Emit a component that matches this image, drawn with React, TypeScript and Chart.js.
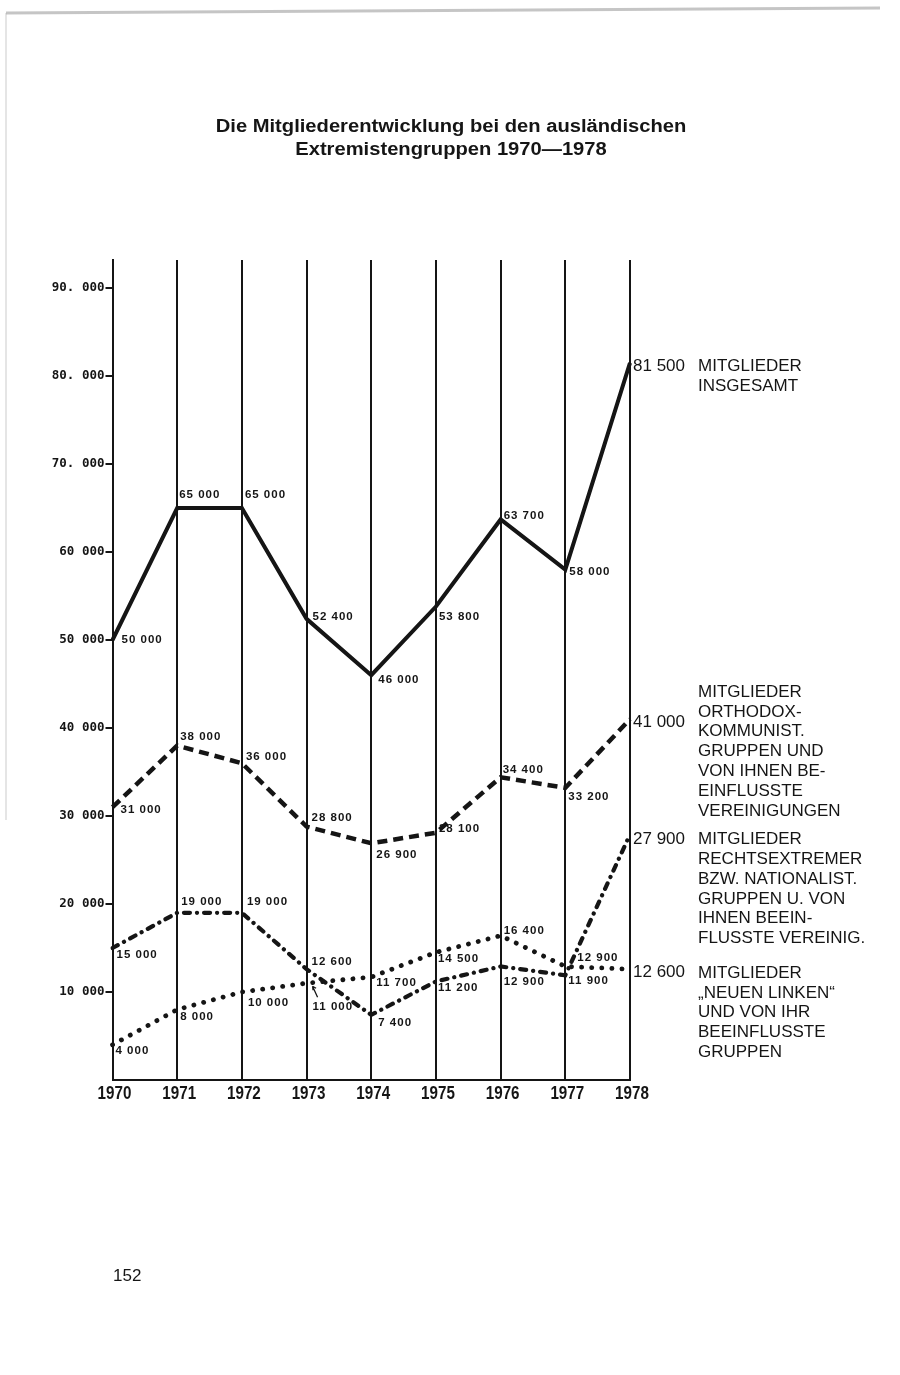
import React, { useEffect, useRef } from "react";
import { Chart, registerables } from "chart.js";

Chart.register(...registerables);

// ---------- data ----------
const years = ["1970", "1971", "1972", "1973", "1974", "1975", "1976", "1977", "1978"];
const totalMembers = [50000, 65000, 65000, 52400, 46000, 53800, 63700, 58000, 81500];
const orthodoxMembers = [31000, 38000, 36000, 28800, 26900, 28100, 34400, 33200, 41000];
const rightMembers = [15000, 19000, 19000, 12600, 7400, 11200, 12900, 11900, 27900];
const newLeftMembers = [4000, 8000, 10000, 11000, 11700, 14500, 16400, 12900, 12600];
const yTickValues = [0, 10000, 20000, 30000, 40000, 50000, 60000, 70000, 80000, 90000];
const yTickLabels = ["", "10 000", "20 000", "30 000", "40 000", "50 000", "60 000", "70. 000", "80. 000", "90. 000"];
const yAxisMax = 93182;

const titleLines = ["Die Mitgliederentwicklung bei den ausländischen", "Extremistengruppen 1970—1978"];
const totalCaption = ["MITGLIEDER", "INSGESAMT"];
const orthodoxCaption = ["MITGLIEDER", "ORTHODOX-", "KOMMUNIST.", "GRUPPEN UND", "VON IHNEN BE-", "EINFLUSSTE", "VEREINIGUNGEN"];
const rightCaption = ["MITGLIEDER", "RECHTSEXTREMER", "BZW. NATIONALIST.", "GRUPPEN U. VON", "IHNEN BEEIN-", "FLUSSTE VEREINIG."];
const newLeftCaption = ["MITGLIEDER", "„NEUEN LINKEN“", "UND VON IHR", "BEEINFLUSSTE", "GRUPPEN"];
const pageNumber = "152";

// ---------- label placement (offsets from each point, px) ----------
const totalLabelOffsets = [[9, 0], [2, -13], [3, -13], [6, -2], [7, 5], [3, 10], [3, -4], [4, 2]];
const orthodoxLabelOffsets = [[8, 3], [3, -9], [4, -6], [5, -9], [5, 12], [3, -4], [2, -7], [3, 9]];
const rightLabelOffsets = [[4, 7], [4, -11], [5, -11], [5, -7], [7, 8], [2, 6], [3, 15], [3, 6]];
const newLeftLabelOffsets = [[3, 6], [3, 7], [6, 11], [6, 24], [5, 6], [2, 6], [3, -5], [12, -9]];
// end value label dy, caption first-line dy
const endPlacement = [
  { dy: 4, capDy: 4 },
  { dy: 3, capDy: -27 },
  { dy: 5, capDy: 5 },
  { dy: 3, capDy: 4 },
];

const INK = "#151515";
const SANS = "'Liberation Sans', Arial, Helvetica, sans-serif";

const fmt = (v: number) => {
  const s = String(v);
  return s.length > 3 ? s.slice(0, s.length - 3) + " " + s.slice(s.length - 3) : s;
};

const annotationPlugin = {
  id: "annotations",
  afterDraw(chart: any) {
    const ctx = chart.ctx as CanvasRenderingContext2D;
    const offsets = [totalLabelOffsets, orthodoxLabelOffsets, rightLabelOffsets, newLeftLabelOffsets];
    const captions = [totalCaption, orthodoxCaption, rightCaption, newLeftCaption];
    ctx.save();
    ctx.fillStyle = INK;
    ctx.strokeStyle = INK;
    ctx.textBaseline = "middle";

    // title (heavy, slightly widened)
    ctx.textAlign = "center";
    ctx.font = `bold 18px ${SANS}`;
    titleLines.forEach((t, i) => {
      ctx.save();
      ctx.translate(451, 127 + i * 23);
      ctx.scale(1.12, 1);
      ctx.fillText(t, 0, 0);
      ctx.restore();
    });

    // x tick labels (condensed)
    const xs = chart.scales.x;
    ctx.font = `bold 19px ${SANS}`;
    xs.ticks.forEach((tk: any, i: number) => {
      const px = xs.getPixelForTick(i);
      const label = xs.getLabelForValue(tk.value);
      ctx.save();
      ctx.translate(px + 2, chart.chartArea.bottom + 14);
      ctx.scale(0.8, 1);
      ctx.fillText(label, 0, 0);
      ctx.restore();
    });
    ctx.textAlign = "left";

    chart.data.datasets.forEach((ds: any, di: number) => {
      const meta = chart.getDatasetMeta(di);
      meta.data.forEach((pt: any, i: number) => {
        const v = ds.data[i];
        if (i < ds.data.length - 1) {
          const [dx, dy] = offsets[di][i];
          ctx.font = `bold 11.5px ${SANS}`;
          (ctx as any).letterSpacing = "1px";
          ctx.fillText(fmt(v), pt.x + dx, pt.y + dy);
          (ctx as any).letterSpacing = "0px";
        } else {
          const ep = endPlacement[di];
          ctx.font = `17px ${SANS}`;
          ctx.fillText(fmt(v), pt.x + 3, pt.y + ep.dy);
          const capLines = captions[di];
          capLines.forEach((line: string, li: number) => {
            ctx.fillText(line, pt.x + 68, pt.y + ep.capDy + li * 19.8);
          });
        }
      });
    });
    // small arrow for the 1973 value of the "Neue Linke" series
    const p = chart.getDatasetMeta(3).data[3];
    if (p) {
      const tx = p.x + 6, ty = p.y + 3;
      const sx = p.x + 11, sy = p.y + 14;
      ctx.lineWidth = 1.3;
      ctx.beginPath();
      ctx.moveTo(sx, sy);
      ctx.lineTo(tx, ty);
      ctx.moveTo(tx, ty);
      ctx.lineTo(tx + 0.5, ty + 4);
      ctx.moveTo(tx, ty);
      ctx.lineTo(tx + 3.5, ty + 2);
      ctx.stroke();
    }
    // page number
    ctx.font = `17px ${SANS}`;
    ctx.fillText(pageNumber, 113, 1276);
    // scan border
    ctx.strokeStyle = "rgba(150,150,150,0.55)";
    ctx.lineWidth = 3;
    ctx.beginPath();
    ctx.moveTo(6, 13);
    ctx.lineTo(880, 8);
    ctx.stroke();
    ctx.strokeStyle = "rgba(170,170,170,0.3)";
    ctx.lineWidth = 2;
    ctx.beginPath();
    ctx.moveTo(6, 13);
    ctx.lineTo(6, 820);
    ctx.stroke();
    ctx.restore();
  },
};

export default function App() {
  const ref = useRef<HTMLCanvasElement | null>(null);
  useEffect(() => {
    if (!ref.current) return;
    const chart = new Chart(ref.current, {
      type: "line",
      data: {
        labels: years,
        datasets: [
          { label: "Insgesamt", data: totalMembers, borderColor: INK, borderWidth: 4, pointRadius: 0, tension: 0, borderJoinStyle: "miter" },
          { label: "Orthodox-kommunistisch", data: orthodoxMembers, borderColor: INK, borderWidth: 4.5, borderDash: [10, 6], pointRadius: 0, tension: 0 },
          { label: "Rechtsextrem", data: rightMembers, borderColor: INK, borderWidth: 4.2, borderDash: [6, 7, 0.1, 7], borderCapStyle: "round", pointRadius: 0, tension: 0 },
          { label: "Neue Linke", data: newLeftMembers, borderColor: INK, borderWidth: 4.8, borderDash: [0.1, 10], borderCapStyle: "round", pointRadius: 0, tension: 0 },
        ],
      },
      options: {
        responsive: false,
        animation: false,
        devicePixelRatio: 1,
        layout: { padding: { left: 0, right: 270, top: 260, bottom: 265 } },
        plugins: {
          legend: { display: false },
          tooltip: { enabled: false },
          title: { display: false },
        },
        scales: {
          x: {
            offset: false,
            grid: { color: INK, lineWidth: 2, drawTicks: false },
            border: { color: INK, width: 2 },
            ticks: { display: false },
            afterFit: (s: any) => { s.height = 30; },
          },
          y: {
            min: 0,
            max: yAxisMax,
            bounds: "data",
            grid: {
              drawOnChartArea: false,
              drawTicks: true,
              tickLength: 7,
              lineWidth: 2,
              color: (c: any) => (c.tick && c.tick.value === 0 ? "rgba(0,0,0,0)" : INK),
            },
            border: { color: INK, width: 2 },
            ticks: {
              padding: 1,
              color: INK,
              font: { family: "'DejaVu Sans Mono', monospace", size: 12.5, weight: "bold" },
              callback: (v: any) => {
                const idx = yTickValues.indexOf(Number(v));
                return idx >= 0 ? yTickLabels[idx] : "";
              },
            },
            afterBuildTicks: (s: any) => {
              s.ticks = yTickValues.map((v) => ({ value: v }));
              s.min = 0;
              s.max = yAxisMax;
            },
            afterFit: (s: any) => { s.width = 112.5; },
          },
        },
      },
      plugins: [annotationPlugin],
    });
    return () => chart.destroy();
  }, []);
  return (
    <canvas
      ref={ref}
      width={900}
      height={1375}
      style={{ position: "absolute", left: 0, top: 0, width: 900, height: 1375, background: "#fff" }}
    />
  );
}
